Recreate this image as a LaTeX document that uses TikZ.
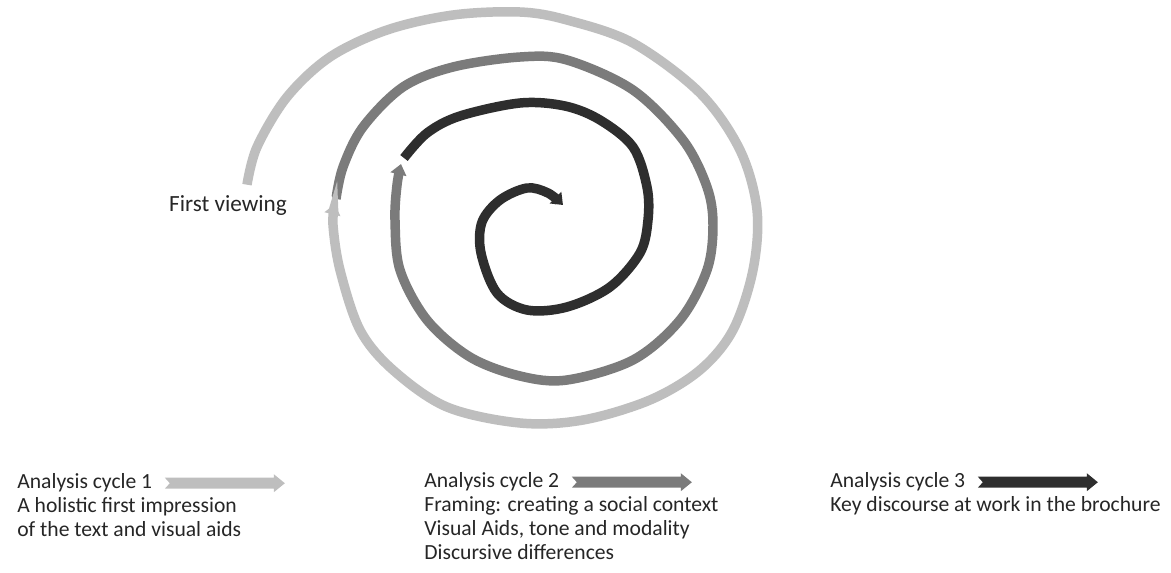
\documentclass[tikz,border=0pt]{standalone}
\usepackage{fontspec}
\setmainfont{Carlito}
\usetikzlibrary{arrows.meta,positioning}

\definecolor{cycleone}{HTML}{BEBEBE}
\definecolor{cycletwo}{HTML}{7B7B7B}
\definecolor{cyclethree}{HTML}{2E2E2E}
\definecolor{inktext}{HTML}{262626}

\tikzset{
  cyclepath/.style={line width=5.4pt, line cap=butt,
    -{Triangle[width=9pt,length=6pt]}},
  halopath/.style={draw=white, line width=7pt,
    -{Triangle[width=12pt,length=7pt]}},
  headtxt/.style={inner sep=0pt, anchor=base west, text=inktext,
    font=\fontsize{12.3}{13.6}\selectfont, execute at begin node=\strut},
  desctxt/.style={inner sep=0pt, align=left, text=inktext,
    font=\fontsize{12.3}{13.6}\selectfont},
}

% notched legend arrow, starts at #1
\newcommand{\cyclearrow}[2]{%
  \fill[#2] (#1) ++(0,5.5) -- ++(109,0) -- ++(0,3.5) -- ++(11,-9)
    -- ++(-11,-9) -- ++(0,3.5) -- ++(-109,0) -- ++(5,5.5) -- cycle;}

\begin{document}
\begin{tikzpicture}[x=0.02cm,y=-0.02cm]
\useasboundingbox (0,0) rectangle (1171,572);

\node[text=inktext, inner sep=0pt, anchor=base,
  font=\fontsize{13.2}{14}\selectfont] (fv) at (228,211) {First viewing};

\coordinate (startA) at ([shift={(19,-10)}]fv.north);
\coordinate (tipA) at (335,204);
\coordinate (startB) at (336,199);
\coordinate (tipB) at (401,164);
\coordinate (startC) at (404,158);
\coordinate (tipC) at (563,205);

% inner cycle
\draw[cyclepath, cyclethree] plot[smooth, tension=0.55] coordinates {(startC)
  (427,133) (460,116) (520,103) (565,106) (600,120) (633,147) (647,187)
  (648,220) (640,253) (610,287) (567,307) (527,310) (497,293) (481,253)
  (482,222) (500,200) (527,188) (548,193) (tipC)};

% middle cycle
\draw[halopath] plot[smooth, tension=0.55] coordinates {(startB)
  (343,167) (363,127) (403,87) (453,67) (520,57) (567,60) (633,90)
  (683,140) (707,187) (713,225) (707,270) (680,320) (633,360) (567,380)
  (520,376) (470,357) (427,320) (400,270) (395,220) (397,185) (tipB)};
\draw[cyclepath, cycletwo] plot[smooth, tension=0.55] coordinates {(startB)
  (343,167) (363,127) (403,87) (453,67) (520,57) (567,60) (633,90)
  (683,140) (707,187) (713,225) (707,270) (680,320) (633,360) (567,380)
  (520,376) (470,357) (427,320) (400,270) (395,220) (397,185) (tipB)};

% outer cycle
\draw[halopath] plot[smooth, tension=0.55] coordinates {(startA)
  (257,147) (287,97) (330,57) (387,30) (453,15) (520,12) (567,20)
  (633,43) (700,93) (740,150) (757,210) (753,270) (733,330) (700,370)
  (650,400) (583,420) (520,423) (447,407) (393,370) (360,330) (340,270)
  (333,225) (tipA)};
\draw[cyclepath, cycleone] plot[smooth, tension=0.55] coordinates {(startA)
  (257,147) (287,97) (330,57) (387,30) (453,15) (520,12) (567,20)
  (633,43) (700,93) (740,150) (757,210) (753,270) (733,330) (700,370)
  (650,400) (583,420) (520,423) (447,407) (393,370) (360,330) (340,270)
  (333,225) (tipA)};

% legend
\node[headtxt] (cycA) at (17,488) {Analysis cycle 1};
\node[desctxt, below=0pt of cycA.south west, anchor=north west] (descA)
  {\strut A holistic first impression\\of the text and visual aids};
\cyclearrow{[xshift=7pt]cycA.east}{cycleone}

\node[headtxt] (cycB) at (424,487) {Analysis cycle 2};
\node[desctxt, below=0pt of cycB.south west, anchor=north west] (descB)
  {\strut Framing: creating a social context\\Visual Aids, tone and modality\\Discursive differences};
\cyclearrow{[xshift=7pt]cycB.east}{cycletwo}

\node[headtxt] (cycC) at (830,487) {Analysis cycle 3};
\node[desctxt, below=0pt of cycC.south west, anchor=north west] (descC)
  {\strut Key discourse at work in the brochure};
\cyclearrow{[xshift=7pt]cycC.east}{cyclethree}
\end{tikzpicture}
\end{document}
